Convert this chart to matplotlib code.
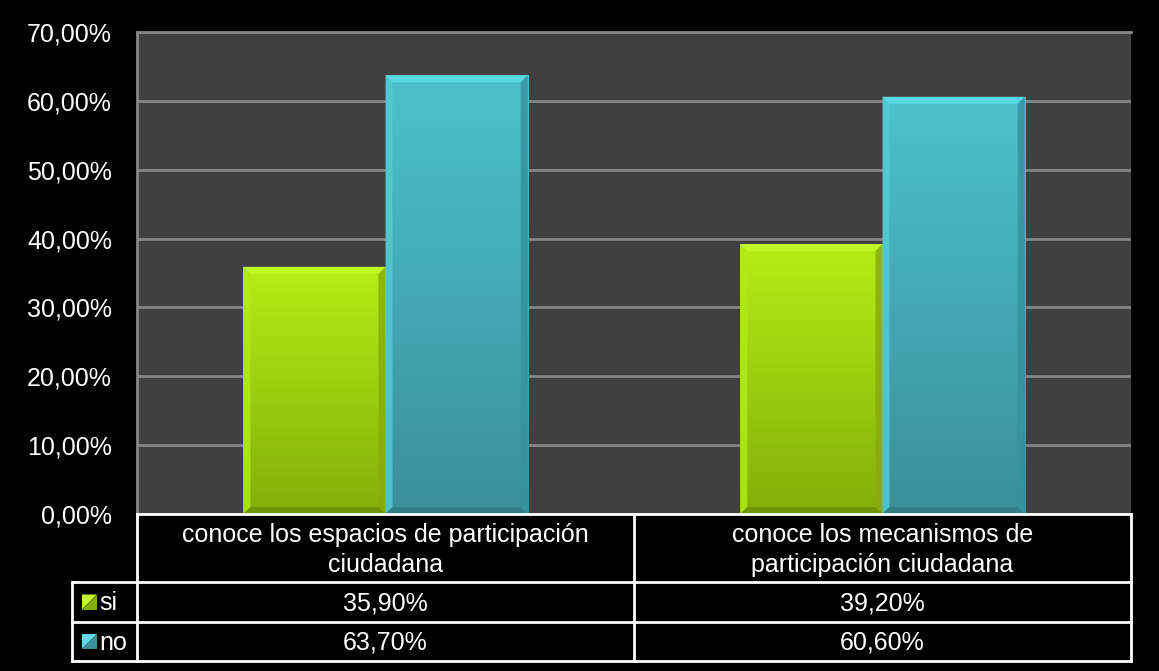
import numpy as np
import matplotlib
matplotlib.use("Agg")
import matplotlib.pyplot as plt
from matplotlib.patches import Polygon
from matplotlib.colors import LinearSegmentedColormap

# data
categories = ["conoce los espacios de participación\nciudadana",
              "conoce los mecanismos de\nparticipación ciudadana"]
series_names = ["si", "no"]
si_vals = [35.9, 39.2]
no_vals = [63.7, 60.6]
yticks = [0, 10, 20, 30, 40, 50, 60, 70]


def pct(v):
    return ("%.2f" % v).replace(".", ",") + "%"


W, H = 1159, 671
plt.rcParams['font.family'] = ['Liberation Sans', 'DejaVu Sans']

fig = plt.figure(figsize=(W / 100, H / 100), dpi=100, facecolor="black")

# plot area in pixels
L, R, T, B = 137, 1131, 32, 514
ax = fig.add_axes([L / W, 1 - B / H, (R - L) / W, (B - T) / H])
ax.set_facecolor("#404040")
ax.set_xlim(-0.5, 1.5)
ax.set_ylim(0, 70)
ax.set_yticks(yticks)
ax.set_yticklabels([pct(v) for v in yticks], color="white", fontsize=18)
ax.tick_params(axis="y", length=0, pad=18)
ax.set_xticks([])
ax.yaxis.grid(True, color="#858585", linewidth=2)
ax.set_axisbelow(True)
for s in ["left", "top"]:
    ax.spines[s].set_color("#858585")
    ax.spines[s].set_linewidth(2)
ax.spines["right"].set_visible(False)
ax.spines["bottom"].set_visible(False)

bw = 0.286
styles = {
    "si": dict(top="#b4ee16", bot="#84ae0a", tb="#c2fb2a", lb="#b0ea1a", rb="#86ac0c", bb="#6c9206"),
    "no": dict(top="#4cc2cd", bot="#3b8f99", tb="#5cdbe6", lb="#52cad5", rb="#36929c", bb="#2d7c85"),
}

px_x = 2.0 / (R - L)
px_y = 70.0 / (B - T)
bev = 7
x = np.arange(len(categories))
for name, vals, off in [("si", si_vals, -bw / 2), ("no", no_vals, bw / 2)]:
    st = styles[name]
    bars = ax.bar(x + off, vals, bw, color=st["top"], linewidth=0, zorder=2)
    cmap = LinearSegmentedColormap.from_list(name, [st["bot"], st["top"]])
    for b in bars:
        x0, y0 = b.get_x(), b.get_y()
        x1, y1 = x0 + b.get_width(), y0 + b.get_height()
        grad = np.linspace(0, 1, 256).reshape(-1, 1)
        im = ax.imshow(grad, extent=[x0, x1, y0, y1], origin="lower", cmap=cmap,
                       aspect="auto", zorder=3)
        im.set_clip_path(b)
        # bevel edges
        dx, dy = bev * px_x, bev * px_y
        outer = [(x0, y0), (x0, y1), (x1, y1), (x1, y0)]
        inner = [(x0 + dx, y0 + dy), (x0 + dx, y1 - dy), (x1 - dx, y1 - dy), (x1 - dx, y0 + dy)]
        sides = [(0, 1, st["lb"]), (1, 2, st["tb"]), (2, 3, st["rb"]), (3, 0, st["bb"])]
        for i, j, c in sides:
            ax.add_patch(Polygon([outer[i], outer[j], inner[j], inner[i]], closed=True,
                                 facecolor=c, edgecolor="none", zorder=4, alpha=0.85))

# data table drawn in pixel space
tab = fig.add_axes([0, 0, 1, 1])
tab.set_xlim(0, W)
tab.set_ylim(H, 0)
tab.axis("off")
tab.patch.set_alpha(0)

col_x = [72, L, (L + R) / 2, R]
row_y = [B, 582, 622, 661]
lw = 2
lc = "white"
tab.plot([L, R], [row_y[0], row_y[0]], color=lc, lw=lw)
for yy in row_y[1:]:
    tab.plot([col_x[0], R], [yy, yy], color=lc, lw=lw)
tab.plot([col_x[0], col_x[0]], [row_y[1], row_y[3]], color=lc, lw=lw)
for xx in col_x[1:]:
    tab.plot([xx, xx], [row_y[0], row_y[3]], color=lc, lw=lw)

for c, cat in enumerate(categories):
    cx = (col_x[c + 1] + col_x[c + 2]) / 2
    tab.text(cx, (row_y[0] + row_y[1]) / 2 + 2, cat, color="white", fontsize=18,
             ha="center", va="center", linespacing=1.3)
    for r, vals in enumerate([si_vals, no_vals]):
        tab.text(cx, (row_y[r + 1] + row_y[r + 2]) / 2 + 1, pct(vals[c]),
                 color="white", fontsize=18, ha="center", va="center")

for r, name in enumerate(series_names):
    st = styles[name]
    cy = (row_y[r + 1] + row_y[r + 2]) / 2
    sx, sz = 82, 15
    tab.add_patch(Polygon([(sx, cy - sz / 2), (sx + sz, cy - sz / 2), (sx, cy + sz / 2)],
                          facecolor=st["tb"], edgecolor="none"))
    tab.add_patch(Polygon([(sx + sz, cy - sz / 2), (sx + sz, cy + sz / 2), (sx, cy + sz / 2)],
                          facecolor=st["bot"], edgecolor="none"))
    tab.text(sx + sz + 2, cy + 1, name, color="white", fontsize=18, ha="left", va="center")

fig.savefig("out.png", dpi=100, facecolor="black")
